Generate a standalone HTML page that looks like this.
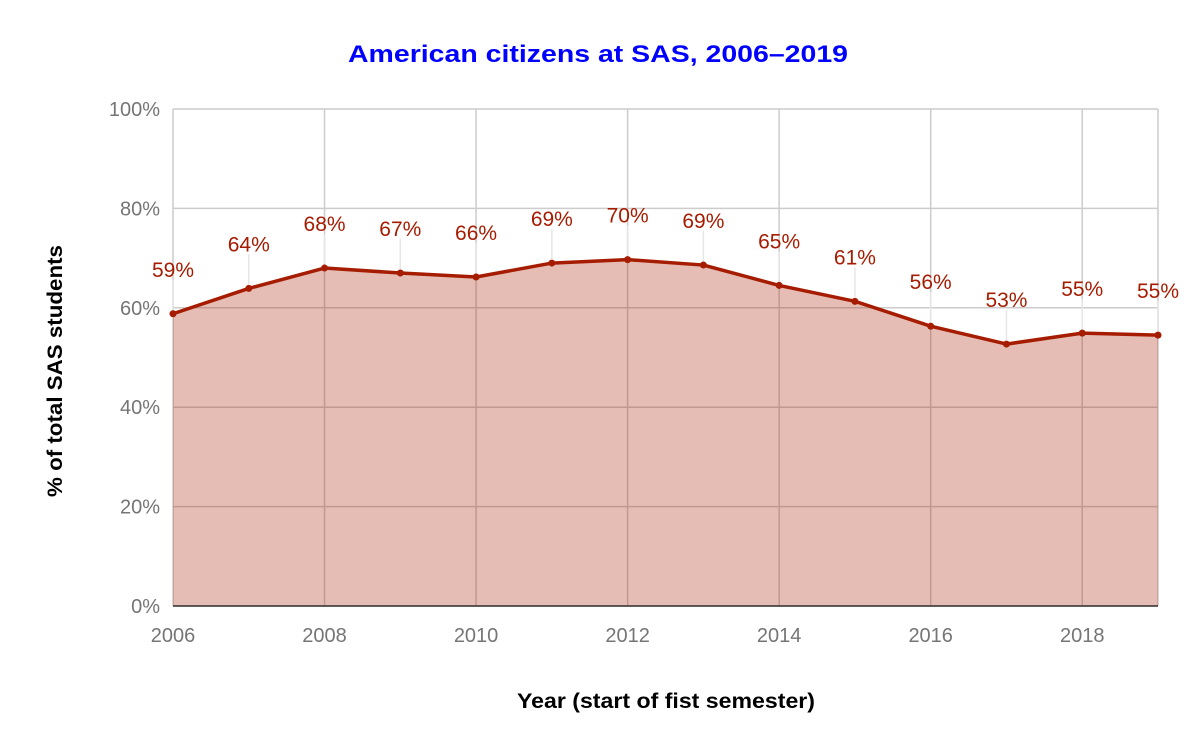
<!DOCTYPE html>
<html><head><meta charset="utf-8"><style>
body{margin:0;background:#fff;overflow:hidden;}
svg{display:block;}
svg text{font-family:"Liberation Sans",Arial,sans-serif;}
</style></head><body>
<svg id="chart" width="1196" height="752" xmlns="http://www.w3.org/2000/svg">
<text x="598" y="62" text-anchor="middle" font-size="24" font-weight="bold" fill="#0000ff" textLength="500" lengthAdjust="spacingAndGlyphs">American citizens at SAS, 2006–2019</text>
<text x="666" y="708" text-anchor="middle" font-size="21" font-weight="bold" fill="#000" textLength="298" lengthAdjust="spacingAndGlyphs">Year (start of fist semester)</text>
<text transform="translate(62,371) rotate(-90)" text-anchor="middle" font-size="21" font-weight="bold" fill="#000" textLength="252" lengthAdjust="spacingAndGlyphs">% of total SAS students</text>
<g id="grid"></g><g id="area"></g><g id="labels"></g>
</svg>
<script>
const years=[2006,2007,2008,2009,2010,2011,2012,2013,2014,2015,2016,2017,2018,2019];
const values=[58.8,63.9,68.0,67.0,66.2,69.0,69.7,68.6,64.5,61.3,56.3,52.7,54.9,54.5];
const labels=["59%","64%","68%","67%","66%","69%","70%","69%","65%","61%","56%","53%","55%","55%"];
const yTicks=[0,20,40,60,80,100];
const xTicks=[2006,2008,2010,2012,2014,2016,2018];
const NS="http://www.w3.org/2000/svg";
const X=v=>173+(v-2006)*(985/13);
const Y=v=>606-v*4.97;
function mk(tag,attrs,parent){const e=document.createElementNS(NS,tag);for(const k in attrs)e.setAttribute(k,attrs[k]);parent.appendChild(e);return e;}
const grid=document.getElementById('grid'),area=document.getElementById('area'),lab=document.getElementById('labels');
yTicks.forEach(t=>{
 const l=mk('line',{x1:173,x2:1158,y1:Y(t),y2:Y(t),stroke:'#cccccc','stroke-width':1.5},grid);
 
 
 const tx=mk('text',{x:160,y:Y(t)+7,'text-anchor':'end','font-size':20,fill:'#757575'},grid);
 tx.textContent=t+'%';
 
 
});
xTicks.concat([2019]).forEach(t=>{
 const l=mk('line',{x1:X(t),x2:X(t),y1:Y(100),y2:Y(0),stroke:'#cccccc','stroke-width':1.5},grid);
 
 
});
xTicks.forEach(t=>{
 const tx=mk('text',{x:X(t),y:642,'text-anchor':'middle','font-size':20,fill:'#757575'},grid);
 tx.textContent=t;
 
 
});
let pts=years.map((y,i)=>X(y)+','+Y(values[i])).join(' ');
const poly=mk('polygon',{points:X(2006)+','+Y(0)+' '+pts+' '+X(2019)+','+Y(0),fill:'#a61c00','fill-opacity':0.29},area);


const base=mk('line',{x1:173,x2:1158,y1:Y(0),y2:Y(0),stroke:'#333',"stroke-width":1.5},area);


const pl=mk('polyline',{points:pts,fill:'none',stroke:'#a61c00','stroke-width':3.5,'stroke-linejoin':'round'},area);


years.forEach((y,i)=>{
 const lx=X(y),py=Y(values[i]);
 const ld=mk('line',{x1:lx,x2:lx,y1:py-34,y2:py-4,stroke:'#e6e6e6','stroke-width':1.5},lab);
 
 
 const c=mk('circle',{cx:lx,cy:py,r:3.5,fill:'#a61c00'},area);
 
 
 const t=mk('text',{x:lx,y:py-37,'text-anchor':'middle','font-size':21,fill:'#a61c00'},lab);
 t.textContent=labels[i];
 
 
});
</script>
</body></html>
